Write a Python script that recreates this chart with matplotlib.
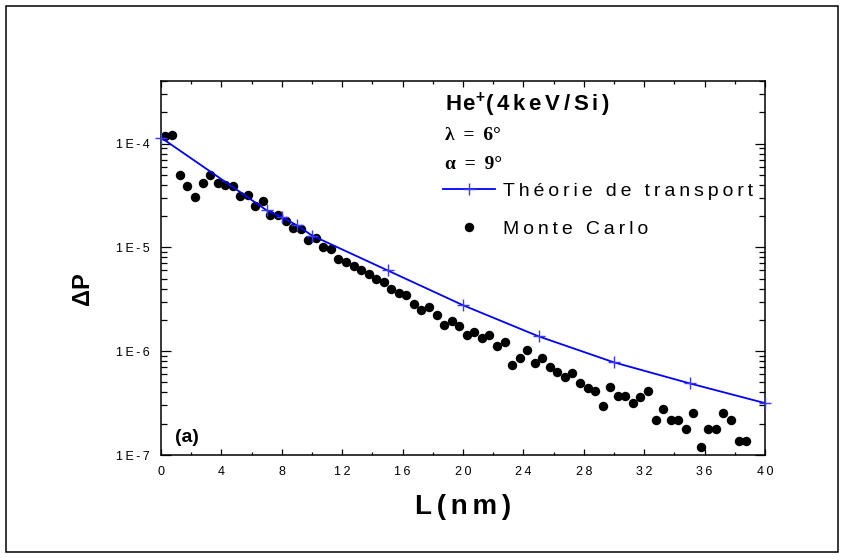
import matplotlib
matplotlib.use("Agg")
from matplotlib import pyplot as plt
from matplotlib.lines import Line2D
from matplotlib.patches import Rectangle
from matplotlib.ticker import FixedLocator, FixedFormatter, LogLocator, MultipleLocator, NullFormatter

# Monte Carlo points (every 0.5 nm, starting at 0.25 nm)
mc_x = [0.25 + 0.5 * k for k in range(78)]
mc_y = [1.19e-4, 1.22e-4, 5.0e-5, 3.86e-5, 3.05e-5, 4.12e-5, 4.92e-5, 4.17e-5, 4.02e-5, 3.88e-5,
        3.09e-5, 3.21e-5, 2.48e-5, 2.77e-5, 2.05e-5, 2.03e-5, 1.80e-5, 1.55e-5, 1.51e-5, 1.17e-5,
        1.24e-5, 1.01e-5, 9.57e-6, 7.78e-6, 7.22e-6, 6.57e-6, 6.08e-6, 5.50e-6, 4.98e-6, 4.60e-6,
        4.01e-6, 3.65e-6, 3.45e-6, 2.87e-6, 2.48e-6, 2.65e-6, 2.23e-6, 1.78e-6, 1.94e-6, 1.73e-6,
        1.43e-6, 1.52e-6, 1.35e-6, 1.43e-6, 1.12e-6, 1.23e-6, 7.33e-7, 8.51e-7, 1.02e-6, 7.62e-7,
        8.51e-7, 7.06e-7, 6.32e-7, 5.66e-7, 6.18e-7, 4.89e-7, 4.37e-7, 4.15e-7, 2.96e-7, 4.54e-7,
        3.72e-7, 3.72e-7, 3.14e-7, 3.59e-7, 4.15e-7, 2.17e-7, 2.75e-7, 2.17e-7, 2.17e-7, 1.77e-7,
        2.55e-7, 1.19e-7, 1.77e-7, 1.77e-7, 2.55e-7, 2.17e-7, 1.37e-7, 1.37e-7]

# transport theory
th_x = [0, 7, 8, 9, 10, 15, 20, 25, 30, 35, 40]
th_y = [1.14e-4, 2.27e-5, 1.95e-5, 1.63e-5, 1.30e-5, 6.0e-6, 2.77e-6, 1.39e-6, 7.8e-7, 4.9e-7, 3.16e-7]

xticks = [0, 4, 8, 12, 16, 20, 24, 28, 32, 36, 40]
yticks = [1e-7, 1e-6, 1e-5, 1e-4]
ytick_labels = ["1E-7", "1E-6", "1E-5", "1E-4"]

TS = "\u2009"  # thin space, to mimic the wide letter spacing
HS = "\u200a"  # hair space


def spaced(s, sep=TS):
    return sep.join(s)


SANS = ["Liberation Sans", "DejaVu Sans"]
SERIF = ["Liberation Serif", "DejaVu Serif"]
plt.rcParams["font.family"] = SANS
plt.rcParams["mathtext.fontset"] = "custom"
plt.rcParams["mathtext.rm"] = "Liberation Sans"
plt.rcParams["mathtext.bf"] = "Liberation Sans:bold"

fig = plt.figure(figsize=(8.41, 5.58), dpi=100)
ax = fig.add_axes([161 / 841, 1 - 455 / 558, 604 / 841, 374 / 558])

fig.patches.append(Rectangle((6 / 841, 6 / 558), 832 / 841, 546 / 558, transform=fig.transFigure,
                             fill=False, edgecolor="black", linewidth=1.1))

ax.plot(mc_x, mc_y, "o", color="black", markersize=6.8, markeredgewidth=0, clip_on=False, zorder=2)
ax.plot(th_x, th_y, "-", color="#0000ff", linewidth=1.3, zorder=3)
ax.plot(th_x, th_y, "+", color="#3a3aff", markersize=9, markeredgewidth=1.0, linestyle="none",
        clip_on=False, zorder=4)

ax.set_yscale("log")
ax.set_xlim(0, 40)
ax.set_ylim(1e-7, 4e-4)

ax.xaxis.set_major_locator(FixedLocator(xticks))
ax.xaxis.set_minor_locator(MultipleLocator(2))
ax.set_xticklabels([spaced(str(v)) for v in xticks])
ax.yaxis.set_major_locator(FixedLocator(yticks))
ax.yaxis.set_major_formatter(FixedFormatter([spaced(s) for s in ytick_labels]))
ax.yaxis.set_minor_locator(LogLocator(base=10, subs=range(2, 10)))
ax.yaxis.set_minor_formatter(NullFormatter())

for sp in ax.spines.values():
    sp.set_linewidth(1.1)
ax.tick_params(axis="both", which="both", direction="in", top=True, right=True, width=0.9,
               labelsize=9, colors="black")
ax.tick_params(axis="x", which="major", length=4.3, pad=8)
ax.tick_params(axis="x", which="minor", length=2.3)
ax.tick_params(axis="y", which="major", length=7, pad=8)
ax.tick_params(axis="y", which="minor", length=4)

# annotation block
ax.text(0.47, 0.936, spaced("He", HS) + "$^{\\mathbf{+}}$" + spaced("(4keV/Si)", HS + HS),
        transform=ax.transAxes, fontsize=16, fontweight="bold", va="center", ha="left")
ax.text(0.47, 0.853, "\u03bb" + TS + " = " + TS + "6\u00b0", transform=ax.transAxes, fontsize=14,
        fontweight="bold", family=SERIF, va="center", ha="left")
ax.text(0.47, 0.778, "\u03b1" + TS + " = " + TS + "9\u00b0", transform=ax.transAxes, fontsize=14,
        fontweight="bold", family=SERIF, va="center", ha="left")
ax.text(0.023, 0.048, "(a)", transform=ax.transAxes, fontsize=14, fontweight="bold",
        va="center", ha="left")

handles = [Line2D([], [], color="#0000ff", linewidth=1.3, marker="+", markersize=9,
                  markeredgecolor="#3a3aff", markeredgewidth=1.0),
           Line2D([], [], color="black", marker="o", markersize=6.8, markeredgewidth=0, linestyle="none")]
labels = [spaced("Théorie de transport"), spaced("Monte Carlo")]
ax.legend(handles, labels, loc="upper left", bbox_to_anchor=((443 - 161) / 604, (455 - 182) / 374),
          frameon=False, fontsize=14, borderpad=0, borderaxespad=0, handlelength=2.67,
          handletextpad=0.4, labelspacing=1.05, markerscale=1.0)

fig.text(463 / 841, 1 - 507 / 558, spaced("L(nm)", HS + HS), fontsize=20, fontweight="bold",
         ha="center", va="center")
fig.text(82 / 841, 1 - 289 / 558, "ΔP", fontsize=17, fontweight="bold",
         rotation=90, ha="center", va="center")

fig.savefig("out.png", dpi=100)
